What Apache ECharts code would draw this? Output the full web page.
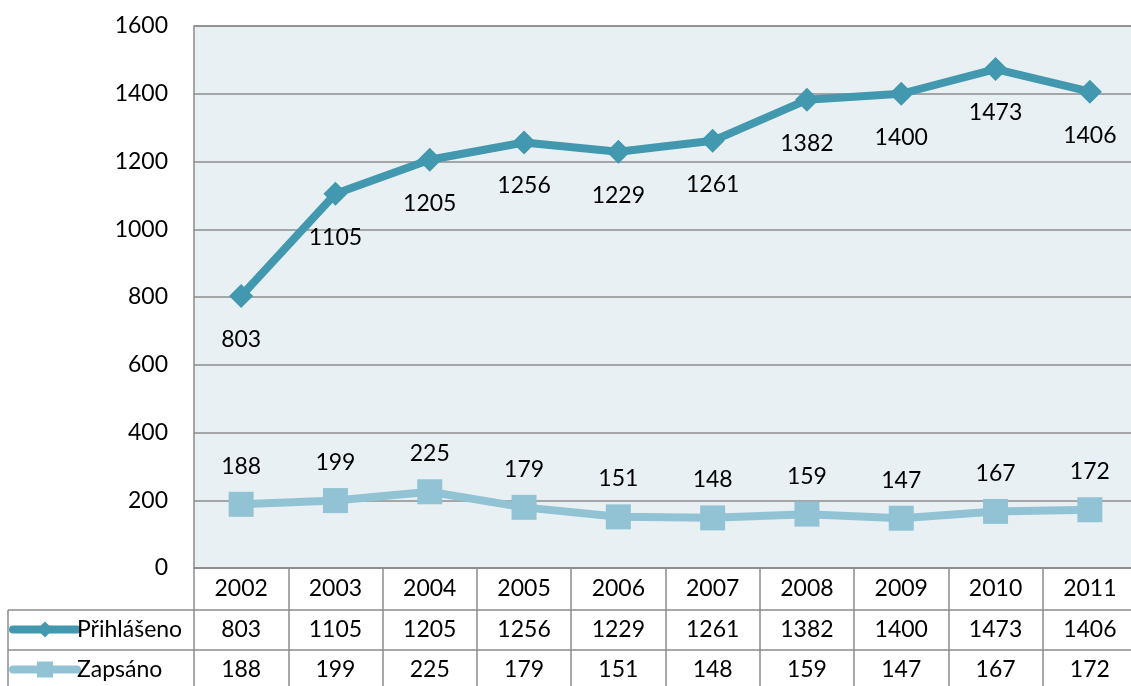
<!DOCTYPE html>
<html><head><meta charset="utf-8">
<script src="https://cdn.jsdelivr.net/npm/echarts@6/dist/echarts.min.js"></script>
<style>html,body{margin:0;padding:0;background:#fff;overflow:hidden}#c{width:1137px;height:686px}</style>
</head><body><div id="c"></div>
<script>
var years = ['2002','2003','2004','2005','2006','2007','2008','2009','2010','2011'];
var prihlaseno = [803,1105,1205,1256,1229,1261,1382,1400,1473,1406];
var zapsano = [188,199,225,179,151,148,159,147,167,172];
var yTicks = [0,200,400,600,800,1000,1200,1400,1600];

var FONT = 'Lato';
var FS = 23;
var dark = '#4198af', light = '#92c3d4', lineGray = '#8c8c8c';
var chart = echarts.init(document.getElementById('c'));
function tableAxis(offset, labels, tickLen, margin) {
  return {
    type: 'category', data: years, position: 'bottom', gridIndex: 0, offset: offset,
    axisLine: {show: true, lineStyle: {color: lineGray, width: 1.5}},
    axisTick: {show: true, length: tickLen, lineStyle: {color: lineGray, width: 1.5}},
    axisLabel: {show: true, margin: margin, fontFamily: FONT, fontSize: FS, color: '#000',
      formatter: function (v, i) { return labels ? String(labels[i]) : v; }},
    splitLine: {show: false}
  };
}
function legendFor(name, top) {
  return {
    orient: 'horizontal', left: 9, top: top, padding: 0, itemWidth: 64, itemHeight: 20, itemGap: 0,
    textStyle: {fontFamily: FONT, fontSize: FS, color: '#000', padding: [0, 0, 0, -5]},
    lineStyle: {width: 8, cap: 'round'},
    data: [name]
  };
}
chart.setOption({
  animation: false,
  textStyle: {fontFamily: FONT},
  grid: {left: 194, top: 26, width: 943, height: 542, show: true,
    backgroundColor: '#e8f0f4', borderColor: lineGray, borderWidth: 1.5},
  legend: [legendFor('Přihlášeno', 618), legendFor('Zapsáno', 658)],
  xAxis: [
    tableAxis(0, null, 42, 9),
    tableAxis(42, prihlaseno, 40, 8),
    tableAxis(82, zapsano, 44, 8)
  ],
  yAxis: {
    type: 'value', min: yTicks[0], max: yTicks[yTicks.length-1], interval: 200,
    axisLine: {show: false}, axisTick: {show: false},
    axisLabel: {fontFamily: FONT, fontSize: FS, color: '#000', margin: 26,
      formatter: function (v) { return String(v); }},
    splitLine: {lineStyle: {color: lineGray, width: 1.5}}
  },
  graphic: [
    {type: 'line', shape: {x1: 8, y1: 610, x2: 194, y2: 610}, style: {stroke: lineGray, lineWidth: 1.5}},
    {type: 'line', shape: {x1: 8, y1: 650, x2: 194, y2: 650}, style: {stroke: lineGray, lineWidth: 1.5}},
    {type: 'line', shape: {x1: 8, y1: 610, x2: 8, y2: 690}, style: {stroke: lineGray, lineWidth: 1.5}}
  ],
  series: [
    {name: 'Přihlášeno', type: 'line', data: prihlaseno, xAxisIndex: 0,
      symbol: 'diamond', symbolSize: 24,
      lineStyle: {color: dark, width: 8}, itemStyle: {color: dark},
      label: {show: true, position: 'bottom', distance: 20, fontFamily: FONT, fontSize: FS, color: '#000'}},
    {name: 'Zapsáno', type: 'line', data: zapsano, xAxisIndex: 0,
      symbol: 'rect', symbolSize: 25,
      lineStyle: {color: light, width: 8}, itemStyle: {color: light},
      label: {show: true, position: 'top', distance: 14, fontFamily: FONT, fontSize: FS, color: '#000'}}
  ]
});
</script></body></html>
